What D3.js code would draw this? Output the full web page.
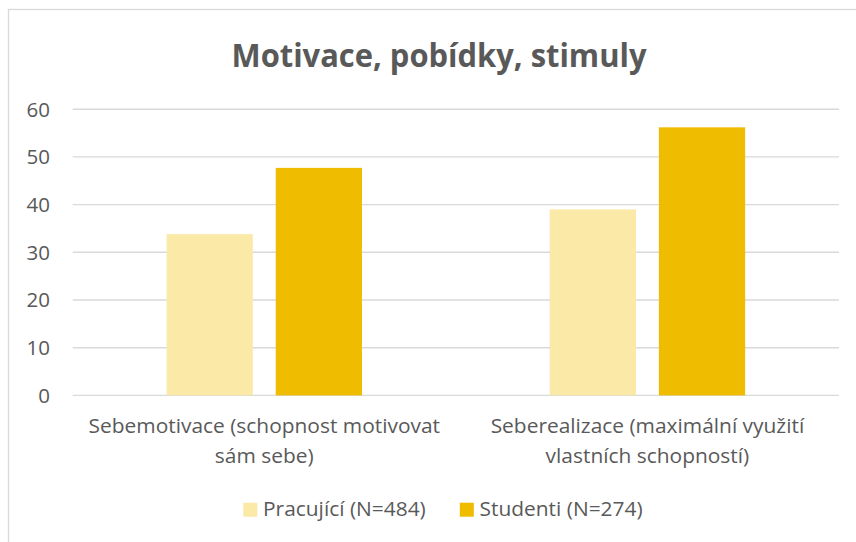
<!DOCTYPE html>
<html>
<head>
<meta charset="utf-8">
<script src="https://cdn.jsdelivr.net/npm/d3@7"></script>
<style>
  body { margin: 0; background: #fff; }
  svg { display: block; font-family: "Open Sans", Lato, sans-serif; }
</style>
</head>
<body>
<svg id="chart" width="856" height="542"></svg>
<script>
const title = "Motivace, pobídky, stimuly";
const categories = [
  ["Sebemotivace (schopnost motivovat", "sám sebe)"],
  ["Seberealizace (maximální využití", "vlastních schopností)"]
];
const series = ["Pracující (N=484)", "Studenti (N=274)"];
const pracujici = [33.8, 39.0];
const studenti = [47.7, 56.2];
const yTicks = [0, 10, 20, 30, 40, 50, 60];
const colors = ["#FAE9A7", "#F0BC00"];

const svg = d3.select("#chart");
const textColor = "#595959";
const stretch = 1.02;

// chart frame (only top & left edges show in the crop)
svg.append("rect")
  .attr("x", 8.5).attr("y", 9.5)
  .attr("width", 900).attr("height", 600)
  .attr("fill", "#fff").attr("stroke", "#d9d9d9").attr("stroke-width", 1.3);

const margin = { left: 72.7, right: 839, top: 109.2, bottom: 395.4 };

const y = d3.scaleLinear().domain([0, 60]).range([margin.bottom, margin.top]);
const x0 = d3.scaleBand()
  .domain(d3.range(categories.length))
  .range([margin.left, margin.right]);
const x1 = d3.scaleBand()
  .domain(series)
  .range([x0.bandwidth() * 0.245, x0.bandwidth() * 0.755])
  .paddingInner(0.21);

// gridlines
svg.append("g").selectAll("line").data(yTicks).join("line")
  .attr("x1", margin.left).attr("x2", margin.right)
  .attr("y1", d => y(d)).attr("y2", d => y(d))
  .attr("stroke", "#d9d9d9").attr("stroke-width", 1.4);

// y axis labels
svg.append("g").selectAll("text").data(yTicks).join("text")
  .attr("x", 50).attr("y", d => y(d))
  .attr("dy", "0.36em")
  .attr("text-anchor", "end")
  .attr("fill", textColor)
  .style("font-size", "20.5px")
  .text(d => d);

// bars
const rows = categories.map((c, i) => ({ i, values: [pracujici[i], studenti[i]] }));
svg.append("g").selectAll("g").data(rows).join("g")
  .attr("transform", d => `translate(${x0(d.i)},0)`)
  .selectAll("rect")
  .data(d => d.values.map((v, j) => ({ key: series[j], v, j })))
  .join("rect")
    .attr("x", d => x1(d.key))
    .attr("width", x1.bandwidth())
    .attr("y", d => y(d.v))
    .attr("height", d => y(0) - y(d.v))
    .attr("fill", d => colors[d.j]);

function squeeze(sel, k) {
  sel.each(function () {
    const w = this.getComputedTextLength();
    d3.select(this).attr("textLength", w * k).attr("lengthAdjust", "spacingAndGlyphs");
  });
}

// category labels
const catLabels = svg.append("g").selectAll("text").data(categories).join("text")
  .attr("fill", textColor)
  .style("font-size", "20.5px")
  .attr("text-anchor", "middle");
catLabels.selectAll("tspan").data((d, i) => d.map((t, l) => ({ t, l, i }))).join("tspan")
  .attr("x", d => x0(d.i) + x0.bandwidth() / 2)
  .attr("y", d => 433 + d.l * 29.7)
  .text(d => d.t);
squeeze(catLabels.selectAll("tspan"), stretch);

// title
const t = svg.append("text")
  .attr("x", 439).attr("y", 66.7)
  .attr("text-anchor", "middle")
  .attr("fill", textColor)
  .style("font-size", "33px")
  .style("font-weight", "bold")
  .text(title)
  .attr("textLength", 415)
  .attr("lengthAdjust", "spacingAndGlyphs");

// legend
const legend = svg.append("g");
const items = legend.selectAll("g").data(series).join("g");
items.append("rect")
  .attr("width", 14).attr("height", 14)
  .attr("y", 502.7)
  .attr("fill", (d, i) => colors[i]);
const ltext = items.append("text")
  .attr("x", 19.7).attr("y", 515.7)
  .attr("fill", textColor)
  .style("font-size", "20.5px")
  .text(d => d);
squeeze(ltext, stretch);
let cx = 0;
const widths = [];
ltext.each(function () { widths.push(+this.getAttribute("textLength")); });
const gap = 34;
const total = d3.sum(widths.map(w => 19.7 + w)) + gap * (series.length - 1);
cx = 443 - total / 2;
items.each(function (d, i) {
  d3.select(this).attr("transform", `translate(${cx},0)`);
  cx += 19.7 + widths[i] + gap;
});
</script>
</body>
</html>
